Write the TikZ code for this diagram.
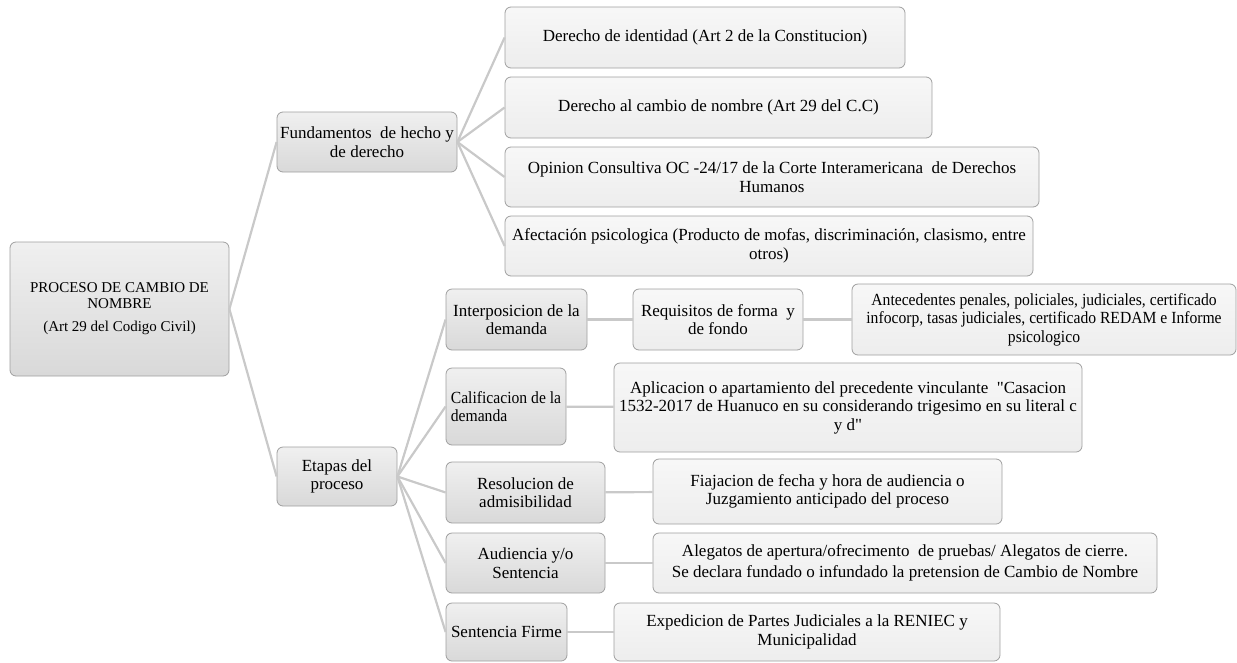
\documentclass[tikz,border=0pt]{standalone}
\usepackage{fontspec}
\setmainfont{Liberation Serif}
\newfontfamily\narrowserif[FakeStretch=0.92]{Liberation Serif}
\usepackage{tikz}
\usetikzlibrary{positioning}

\tikzset{
  basebox/.style={rounded corners=6pt, draw=gray!75, line width=0.8pt,
    align=center, inner sep=2pt, font=\fontsize{17}{18.5}\selectfont},
  darkbox/.style={basebox, top color=gray!12, bottom color=gray!30},
  lightbox/.style={basebox, top color=gray!6, bottom color=gray!14},
  narrow/.style={font=\narrowserif\fontsize{17}{18.5}\selectfont},
  link/.style={draw=gray!42, line width=2.2pt}
}

\begin{document}
\begin{tikzpicture}[x=1pt,y=-1pt]
  \useasboundingbox (0,0) rectangle (1237,662);
  % Root and first level
  \node[darkbox, minimum width=219, minimum height=134,
        font=\fontsize{15}{16}\selectfont] (root) at (119.5,309)
    {PROCESO DE CAMBIO DE\\NOMBRE\\[7pt](Art 29 del Codigo Civil)};
  \node[darkbox, minimum width=180, minimum height=60] (fund) at (367,142)
    {Fundamentos\ \ de hecho y\\de derecho};
  \node[darkbox, minimum width=120, minimum height=59] (etapas) at (337,476.5)
    {Etapas del\\proceso};
  % Fundamentos
  \node[lightbox, minimum width=400, minimum height=61] (d1) at (705,37.5)
    {Derecho de identidad (Art 2 de la Constitucion)};
  \node[lightbox, minimum width=427, minimum height=61] (d2) at (718.5,107.5)
    {Derecho al cambio de nombre (Art 29 del C.C)};
  \node[lightbox, minimum width=534, minimum height=60] (d3) at (772,177)
    {Opinion Consultiva OC -24/17 de la Corte Interamericana\ \ de Derechos\\Humanos};
  \node[lightbox, minimum width=528, minimum height=60] (d4) at (769,246)
    {Afectación psicologica (Producto de mofas, discriminación, clasismo, entre\\otros)};
  % Etapas del proceso
  \node[darkbox, minimum width=141, minimum height=61] (e1) at (516.5,319.5)
    {Interposicion de la\\demanda};
  \node[darkbox, narrow, minimum width=120, minimum height=77, align=left] (e2) at (506,406.5)
    {Calificacion de la\\demanda};
  \node[darkbox, minimum width=159, minimum height=61] (e3) at (525.5,492.5)
    {Resolucion de\\admisibilidad};
  \node[darkbox, minimum width=159, minimum height=60] (e4) at (525.5,563)
    {Audiencia y/o\\Sentencia};
  \node[darkbox, minimum width=121, minimum height=58] (e5) at (506.5,632)
    {Sentencia Firme};
  % Detalle de cada etapa
  \node[lightbox, minimum width=170, minimum height=61] (r1) at (718,319.5)
    {Requisitos de forma\ \ y\\de fondo};
  \node[lightbox, narrow, minimum width=384, minimum height=71] (a1) at (1044,319.5)
    {Antecedentes penales, policiales, judiciales, certificado\\infocorp, tasas judiciales, certificado REDAM e Informe\\psicologico};
  \node[lightbox, minimum width=468, minimum height=89] (s2) at (848,407.5)
    {Aplicacion o apartamiento del precedente vinculante\ \ \textquotedbl Casacion\\1532-2017 de Huanuco en su considerando trigesimo en su literal c\\y d\textquotedbl};
  \node[lightbox, minimum width=349, minimum height=65] (s3) at (827.5,491.5)
    {Fiajacion de fecha y hora de audiencia o\\Juzgamiento anticipado del proceso};
  \node[lightbox, minimum width=504, minimum height=60] (s4) at (905,563)
    {Alegatos de apertura/ofrecimento\ \ de pruebas/ Alegatos de cierre.\\[3pt]Se declara fundado o infundado la pretension de Cambio de Nombre};
  \node[lightbox, minimum width=386, minimum height=58] (s5) at (807,632)
    {Expedicion de Partes Judiciales a la RENIEC y\\Municipalidad};
  % Connectors
  \foreach \n in {fund,etapas}
    \draw[link] (root.east) -- (\n.west);
  \foreach \n in {d1,d2,d3,d4}
    \draw[link] (fund.east) -- (\n.west);
  \foreach \n in {e1,e2,e3,e4,e5}
    \draw[link] (etapas.east) -- (\n.west);
  \draw[link] (e1) -- (r1);
  \draw[link] (r1) -- (a1);
  \foreach \a/\b in {e2/s2, e3/s3, e4/s4, e5/s5}
    \draw[link] (\a) -- (\b);
\end{tikzpicture}
\end{document}
